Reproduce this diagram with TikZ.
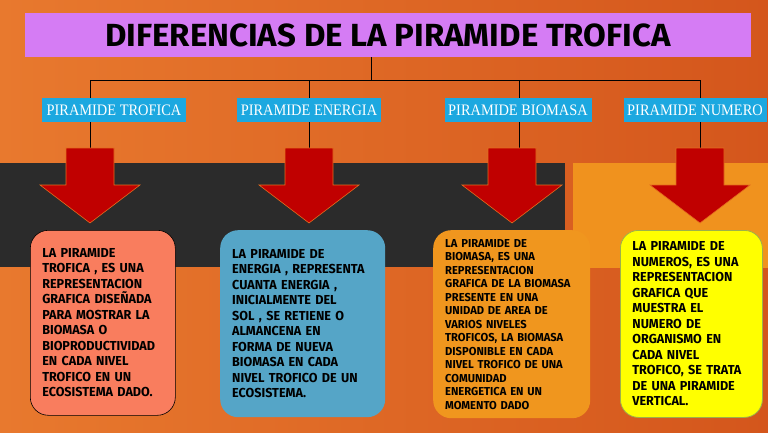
\documentclass[tikz,border=0pt]{standalone}
\usepackage{fontspec}
\setmainfont{Fira Sans}
\newfontfamily\titlefont{Fira Sans}[FakeStretch=1.03]
\newfontfamily\cardfont{Fira Sans}[FakeStretch=0.97]
\newfontfamily\tagfont{Liberation Serif}[FakeStretch=0.9]
\usetikzlibrary{positioning}
\definecolor{bgleft}{HTML}{E8792E}
\definecolor{bgright}{HTML}{D4561C}
\definecolor{band}{HTML}{2B2B2B}
\definecolor{panel}{HTML}{F0921E}
\definecolor{titleviolet}{HTML}{D57CF4}
\definecolor{tagblue}{HTML}{1CA8E0}
\definecolor{arrowred}{HTML}{C00000}
\definecolor{arrowrim}{HTML}{E46C1E}
\definecolor{salmon}{HTML}{F97D5E}
\definecolor{skyblue}{HTML}{55A5C7}
\definecolor{amber}{HTML}{F0961E}
\definecolor{lemon}{HTML}{FFFF00}
\definecolor{lemonrim}{HTML}{9DB04A}

\tikzset{
  wire/.style={draw=black,line width=0.8pt},
  tag/.style={fill=tagblue,text=white,inner sep=0,minimum height=24,
    font=\tagfont\fontsize{16}{16}\selectfont},
  card/.style={rounded corners=18,inner xsep=12,inner ysep=0,align=left,
    anchor=north west,font=\cardfont\bfseries\fontsize{13}{15.5}\selectfont},
  redarrow/.style={fill=arrowred,draw=arrowrim,line width=0.6pt},
}
\newcommand{\blockarrow}[1]{%
  \filldraw[redarrow] (#1) ++(-24,0) -- ++(48,0) -- ++(0,37) -- ++(26,0)
    -- ++(-50,38) -- ++(-50,-38) -- ++(26,0) -- cycle;}

\begin{document}
\begin{tikzpicture}[x=1pt,y=-1pt]
  \useasboundingbox (0,0) rectangle (768,433);
  \shade[left color=bgleft,right color=bgright] (0,0) rectangle (768,433);
  \fill[band] (0,163) rectangle (565,267);
  \fill[panel] (573,163) rectangle (768,268);

  \node[fill=titleviolet,minimum width=726,minimum height=44,inner sep=0,
    font=\titlefont\bfseries\fontsize{32}{32}\selectfont]
    (title) at (388,35) {DIFERENCIAS DE LA PIRAMIDE TROFICA};

  % arrow tops
  \coordinate (a1) at (90,148);
  \coordinate (a2) at (309,148);
  \coordinate (a3) at (512,148);
  \coordinate (a4) at (700,148);

  \draw[wire] ([xshift=-17]title.south) -- ++(0,23) coordinate (hub);
  \draw[wire] (hub) -| (a1);
  \draw[wire] (hub) -| (a2);
  \draw[wire] (hub) -| ([xshift=7]a3);
  \draw[wire] (hub) -| (a4);

  \node[tag,minimum width=144] (t1) at (114,110) {PIRAMIDE TROFICA};
  \node[tag,minimum width=144] (t2) at (309,110) {PIRAMIDE ENERGIA};
  \node[tag,minimum width=147] (t3) at (518,110) {PIRAMIDE BIOMASA};
  \node[tag,minimum width=143] (t4) at (695,110) {PIRAMIDE NUMERO};

  \blockarrow{a1}
  \blockarrow{a2}
  \blockarrow{a3}
  \blockarrow{a4}

  \node[card,fill=salmon,draw=black,line width=0.6pt,text width=121,
    minimum height=185] (c1) at (30,230)
    {LA PIRAMIDE\\TROFICA , ES UNA\\REPRESENTACION\\GRAFICA DISEÑADA\\
     PARA MOSTRAR LA\\BIOMASA O\\BIOPRODUCTIVIDAD\\EN CADA NIVEL\\
     TROFICO EN UN\\ECOSISTEMA DADO.};
  \node[card,fill=skyblue,text width=141,minimum height=187] (c2) at (220,230)
    {LA PIRAMIDE DE\\ENERGIA , REPRESENTA\\CUANTA ENERGIA ,\\INICIALMENTE DEL\\
     SOL , SE RETIENE O\\ALMANCENA EN\\FORMA DE NUEVA\\BIOMASA EN CADA\\
     NIVEL TROFICO DE UN\\ECOSISTEMA.};
  \node[card,fill=amber,text width=133,minimum height=188,
    font=\cardfont\bfseries\fontsize{11.5}{13.5}\selectfont] (c3) at (433,230)
    {LA PIRAMIDE DE\\BIOMASA, ES UNA\\REPRESENTACION\\GRAFICA DE LA BIOMASA\\
     PRESENTE EN UNA\\UNIDAD DE AREA DE\\VARIOS NIVELES\\TROFICOS, LA BIOMASA\\
     DISPONIBLE EN CADA\\NIVEL TROFICO DE UNA\\COMUNIDAD\\ENERGETICA EN UN\\
     MOMENTO DADO};
  \node[card,fill=lemon,draw=lemonrim,line width=0.8pt,text width=118,
    minimum height=187] (c4) at (620,230)
    {LA PIRAMIDE DE\\NUMEROS, ES UNA\\REPRESENTACION\\GRAFICA QUE\\MUESTRA EL\\
     NUMERO DE\\ORGANISMO EN\\CADA NIVEL\\TROFICO, SE TRATA\\DE UNA PIRAMIDE\\
     VERTICAL.};
\end{tikzpicture}
\end{document}
